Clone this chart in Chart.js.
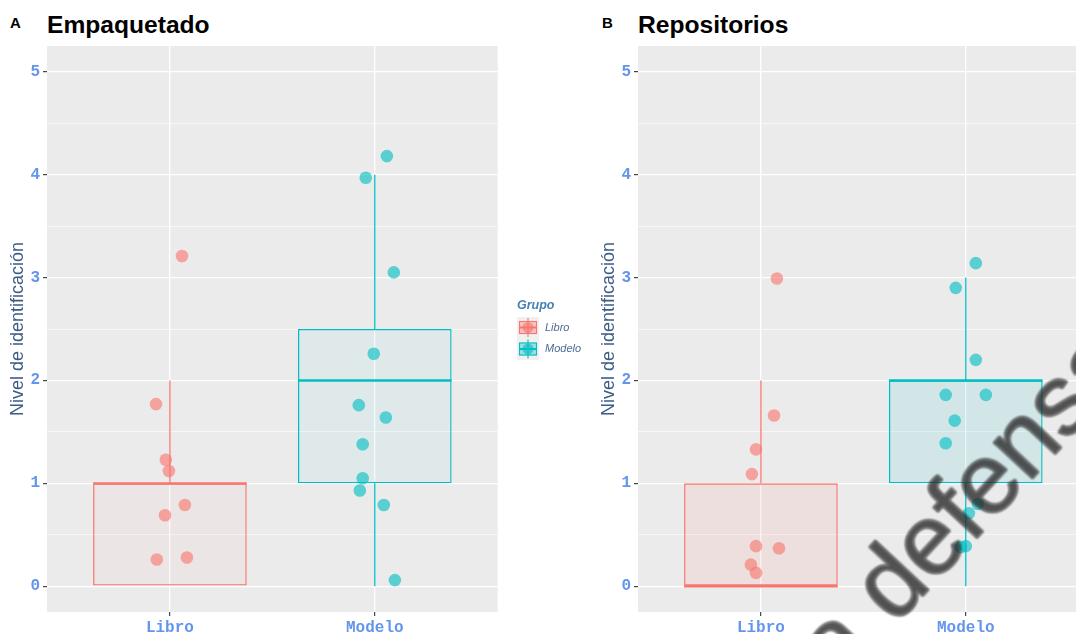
<!DOCTYPE html>
<html>
<head>
<meta charset="utf-8">
<script src="https://cdn.jsdelivr.net/npm/chart.js@4.4.1/dist/chart.umd.min.js"></script>
<style>
  html, body { margin: 0; padding: 0; background: #fff; overflow: hidden; width: 1076px; height: 634px; }
  canvas { position: absolute; top: 0; }
  .tag { position: absolute; font: bold 15px "Liberation Sans", Arial, sans-serif; line-height: 15px; color: #000; }
  .title { position: absolute; font: bold 24.6px "Liberation Sans", Arial, sans-serif; line-height: 24px; color: #000; }
</style>
</head>
<body>
<div class="tag" style="left:10px; top:15px">A</div>
<div class="title" style="left:47px; top:13px">Empaquetado</div>
<div class="tag" style="left:602px; top:15px">B</div>
<div class="title" style="left:638px; top:13px">Repositorios</div>

<canvas id="chartA" width="504" height="634" style="left:0"></canvas>
<canvas id="chartB" width="504" height="634" style="left:591px"></canvas>
<canvas id="legend" width="86" height="80" style="left:505px; top:290px"></canvas>
<canvas id="mark" width="1076" height="634" style="left:0; pointer-events:none; opacity:0.78"></canvas>

<script>
const groups = ["Libro", "Modelo"];
const yTicks = [0, 0.5, 1, 1.5, 2, 2.5, 3, 3.5, 4, 4.5, 5];

// box stats per group: lower whisker, Q1, median, Q3, upper whisker
const empStats = [[0, 0, 1, 1, 2], [0, 1, 2, 2.5, 4]];
const repStats = [[0, 0, 0, 1, 2], [0, 1, 2, 2, 3]];

// jittered points (x = group position + jitter)
const empLibroX = [1.059, 0.932, 0.980, 0.995, 1.073, 0.976, 0.936, 1.083];
const empLibroY = [3.21, 1.77, 1.23, 1.12, 0.79, 0.69, 0.26, 0.28];
const empModeloX = [2.059, 1.956, 2.093, 1.995, 1.922, 2.054, 1.941, 1.941, 1.927, 2.044, 2.098];
const empModeloY = [4.18, 3.97, 3.05, 2.26, 1.76, 1.64, 1.38, 1.05, 0.93, 0.79, 0.06];

const repLibroX = [1.078, 1.064, 0.976, 0.956, 0.976, 1.088, 0.951, 0.976];
const repLibroY = [2.99, 1.66, 1.33, 1.09, 0.39, 0.37, 0.21, 0.13];
const repModeloX = [2.049, 1.951, 2.049, 1.902, 2.098, 1.946, 1.902, 2.059, 2.015, 2.0, 1.976];
const repModeloY = [3.14, 2.90, 2.20, 1.86, 1.86, 1.61, 1.39, 0.80, 0.71, 0.39, 0.38];

const BOX_WIDTH = 0.75;
const COLORS = ["#F8766D", "#00BFC4"];

function rgba(hex, a) {
  const n = parseInt(hex.slice(1), 16);
  return `rgba(${n >> 16},${(n >> 8) & 255},${n & 255},${a})`;
}

const panelBackground = {
  id: "panelBackground",
  beforeDraw(chart) {
    const { ctx, chartArea: a } = chart;
    ctx.save();
    ctx.fillStyle = "#EBEBEB";
    ctx.fillRect(a.left, a.top, a.right - a.left, a.bottom - a.top);
    ctx.restore();
  },
};

function makePanel(id, stats, points, fillAlpha) {
  const datasets = [];
  stats.forEach((s, i) => {
    const x = i + 1;
    const half = BOX_WIDTH / 2;
    datasets.push({
      type: "bar",
      data: [{ x: x, y: [s[1], s[3]] }],
      backgroundColor: rgba(COLORS[i], fillAlpha),
      borderColor: COLORS[i],
      borderWidth: 1.3,
      borderSkipped: false,
      categoryPercentage: 1,
      barPercentage: BOX_WIDTH,
      grouped: false,
      order: 3,
    });
    datasets.push({
      type: "line",
      data: [
        { x: x, y: s[3] }, { x: x, y: s[4] }, { x: x, y: null },
        { x: x, y: s[0] }, { x: x, y: s[1] },
      ],
      borderColor: COLORS[i],
      borderWidth: 1.3,
      pointRadius: 0,
      spanGaps: false,
      order: 2,
    });
    datasets.push({
      type: "line",
      data: [{ x: x - half, y: s[2] }, { x: x + half, y: s[2] }],
      borderColor: COLORS[i],
      borderWidth: 2.4,
      pointRadius: 0,
      order: 1,
    });
  });
  points.forEach((p, i) => {
    datasets.push({
      type: "scatter",
      data: p[0].map((x, k) => ({ x: x, y: p[1][k] })),
      backgroundColor: rgba(COLORS[i], 0.62),
      borderWidth: 0,
      pointRadius: 6.3,
      pointHoverRadius: 6.3,
      order: 0,
    });
  });

  return new Chart(document.getElementById(id), {
    type: "scatter",
    data: { datasets },
    plugins: [panelBackground],
    options: {
      responsive: false,
      animation: false,
      events: [],
      layout: { padding: { top: 46, right: 3, left: 0, bottom: 0 } },
      plugins: { legend: { display: false }, tooltip: { enabled: false } },
      scales: {
        x: {
          type: "linear",
          min: 0.4,
          max: 2.6,
          offset: false,
          afterBuildTicks: (sc) => { sc.ticks = [1, 2].map((v) => ({ value: v })); },
          afterFit: (sc) => { sc.height = 22; sc.paddingLeft = 0; sc.paddingRight = 0; },
          border: { display: false },
          grid: { color: "#FFFFFF", lineWidth: 1.3, tickLength: 4, tickColor: "#333333", tickWidth: 1.1, offset: false },
          ticks: {
            autoSkip: false,
            maxRotation: 0,
            padding: 2,
            color: "#6495ED",
            font: { family: "Liberation Mono", size: 16, weight: "bold" },
            callback: (v) => groups[Math.round(v) - 1],
          },
        },
        y: {
          min: -0.25,
          max: 5.25,
          afterBuildTicks: (sc) => { sc.ticks = yTicks.map((v) => ({ value: v })); },
          afterFit: (sc) => { sc.width = 47; sc.paddingTop = 0; sc.paddingBottom = 0; },
          border: { display: false },
          grid: {
            color: "#FFFFFF",
            lineWidth: (c) => (Number.isInteger(c.tick.value) ? 1.3 : 0.6),
            tickLength: 4,
            tickColor: (c) => (Number.isInteger(c.tick.value) ? "#333333" : "rgba(0,0,0,0)"),
            tickWidth: 1.1,
          },
          ticks: {
            padding: 3,
            color: "#6495ED",
            font: { family: "Liberation Mono", size: 16, weight: "bold" },
            callback: (v) => (Number.isInteger(v) ? String(v) : ""),
          },
          title: {
            display: true,
            text: "Nivel de identificación",
            color: "#3D5C84",
            font: { family: "Liberation Sans", size: 18 },
            padding: { top: 7, bottom: 0 },
          },
        },
      },
    },
  });
}

makePanel("chartA", empStats, [[empLibroX, empLibroY], [empModeloX, empModeloY]], 0.05);
makePanel("chartB", repStats, [[repLibroX, repLibroY], [repModeloX, repModeloY]], 0.1);

// legend (drawn by hand, between the panels)
(function drawLegend() {
  const ctx = document.getElementById("legend").getContext("2d");
  const ox = 505, oy = 290;
  ctx.fillStyle = "#4682B4";
  ctx.font = "italic bold 12.5px 'Liberation Sans'";
  ctx.textBaseline = "alphabetic";
  ctx.fillText("Grupo", 517 - ox, 309 - oy);
  ctx.fillStyle = "#F0F0F0";
  ctx.fillRect(517 - ox, 317 - oy, 22, 43);
  groups.forEach((g, i) => {
    const top = 317 - oy + i * 21.5;
    const cx = 528 - ox;
    const cy = top + 10.5;
    ctx.strokeStyle = COLORS[i];
    ctx.lineWidth = 1.1;
    ctx.beginPath();
    ctx.moveTo(cx, top + 1); ctx.lineTo(cx, top + 20);
    ctx.stroke();
    ctx.fillStyle = rgba(COLORS[i], 0.35);
    ctx.fillRect(519 - ox, top + 4, 18, 13);
    ctx.strokeRect(519 - ox + 0.5, top + 4.5, 17, 12);
    ctx.fillStyle = rgba(COLORS[i], 0.62);
    ctx.beginPath();
    ctx.arc(cx, cy, 5.5, 0, Math.PI * 2);
    ctx.fill();
    ctx.lineWidth = 2;
    ctx.beginPath();
    ctx.moveTo(519 - ox, cy); ctx.lineTo(537 - ox, cy);
    ctx.stroke();
    ctx.fillStyle = "#4D6D94";
    ctx.font = "italic 11px 'Liberation Sans'";
    ctx.textBaseline = "middle";
    ctx.fillText(g, 545 - ox, cy);
  });
})();

// watermark over panel B
(function drawMark() {
  const ctx = document.getElementById("mark").getContext("2d");
  ctx.save();
  ctx.translate(823, 703);
  ctx.rotate(-47 * Math.PI / 180);
  ctx.filter = "blur(1.1px)";
  ctx.fillStyle = "#262626";
  ctx.strokeStyle = "#262626";
  ctx.lineWidth = 1.5;
  ctx.lineJoin = "round";
  ctx.font = "100px 'Liberation Sans'";
  ctx.textBaseline = "alphabetic";
  ctx.fillText("la defensa", 0, 0);
  ctx.strokeText("la defensa", 0, 0);
  ctx.restore();
})();
</script>
</body>
</html>
